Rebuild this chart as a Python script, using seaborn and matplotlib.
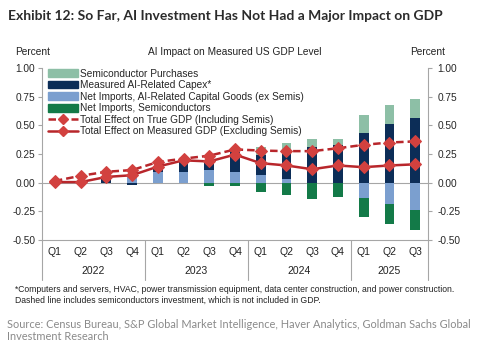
import matplotlib
matplotlib.use('Agg')
import matplotlib.pyplot as plt
from matplotlib.lines import Line2D
from matplotlib.patches import Patch
import numpy as np
import pandas as pd
import seaborn as sns

# data
quarters = ['Q1', 'Q2', 'Q3', 'Q4'] * 3 + ['Q1', 'Q2', 'Q3']
years = ['2022', '2023', '2024', '2025']
semi_purchases = [0.0, 0.0, 0.0, 0.0, 0.0, 0.0, 0.0, 0.01,
                  0.075, 0.10, 0.065, 0.05, 0.16, 0.17, 0.17]
capex = [0.0, 0.0, 0.03, -0.02, 0.045, 0.085, 0.08, 0.175,
         0.175, 0.22, 0.315, 0.33, 0.43, 0.51, 0.56]
imports_ai = [0.01, 0.0, 0.0, 0.07, 0.095, 0.095, 0.11, 0.095,
              0.065, 0.03, 0.0, 0.0, -0.13, -0.19, -0.24]
imports_semis = [-0.01, 0.0, 0.0, 0.0, 0.0, -0.005, -0.025, -0.025,
                 -0.08, -0.11, -0.14, -0.125, -0.17, -0.17, -0.17]
true_gdp = [0.015, 0.06, 0.095, 0.11, 0.18, 0.21, 0.235, 0.29,
            0.28, 0.275, 0.275, 0.30, 0.33, 0.35, 0.36]
measured_gdp = [0.005, 0.005, 0.05, 0.065, 0.14, 0.195, 0.185, 0.245,
                0.17, 0.15, 0.117, 0.15, 0.135, 0.15, 0.16]

labels = ['Semiconductor Purchases', 'Measured AI-Related Capex*',
          'Net Imports, AI-Related Capital Goods (ex Semis)',
          'Net Imports, Semiconductors',
          'Total Effect on True GDP (Including Semis)',
          'Total Effect on Measured GDP (Excluding Semis)']
colors = {'semis': '#8dbfa6', 'capex': '#0c2d57', 'ai': '#7b9fcf',
          'imp': '#137a48', 'line': '#b8262b', 'marker': '#d2413f'}

sns.set_style('white')
plt.rcParams['font.family'] = ['Liberation Sans', 'DejaVu Sans']

fig = plt.figure(figsize=(5, 3.52), dpi=100)
ax = fig.add_axes([42 / 500, 1 - 240 / 352, 386 / 500, 172 / 352])

x = np.arange(len(quarters))
width = 0.38

# stacked bars, positives up and negatives down
pos = np.zeros(len(x))
neg = np.zeros(len(x))
for key, vals in [('ai', imports_ai), ('capex', capex),
                  ('semis', semi_purchases), ('imp', imports_semis)]:
    vals = np.array(vals)
    bottom = np.where(vals >= 0, pos, neg)
    ax.bar(x, vals, width=width, bottom=bottom, color=colors[key], linewidth=0, zorder=2)
    pos += np.clip(vals, 0, None)
    neg += np.clip(vals, None, 0)

lines = pd.DataFrame({'x': x, 'true': true_gdp, 'measured': measured_gdp})
sns.lineplot(data=lines, x='x', y='true', ax=ax, color=colors['line'], lw=1.8,
             linestyle=(0, (3, 1.6)), marker='D', markersize=6.5,
             markerfacecolor=colors['marker'], markeredgecolor=colors['marker'], zorder=4)
sns.lineplot(data=lines, x='x', y='measured', ax=ax, color=colors['line'], lw=1.8,
             marker='D', markersize=6.5, markerfacecolor=colors['marker'],
             markeredgecolor=colors['marker'], zorder=5)

ax.axhline(0, color='#a6a6a6', lw=0.8, zorder=1)
ax.set_xlim(-0.5, len(x) - 0.5)
ax.set_ylim(-0.5, 1.0)
yt = np.arange(-0.5, 1.01, 0.25)
ax.set_yticks(yt)
ax.set_yticklabels([f'{v:.2f}' for v in yt], fontsize=7.3)
ax.set_xticks([])
ax.set_xlabel('')
ax.set_ylabel('')
ax.spines['top'].set_visible(False)
for s in ['left', 'right', 'bottom']:
    ax.spines[s].set_color('#a6a6a6')
    ax.spines[s].set_linewidth(0.8)
ax.tick_params(axis='y', direction='out', length=3, color='#a6a6a6', pad=2, left=True)

ax2 = ax.twinx()
ax2.set_ylim(-0.5, 1.0)
ax2.set_yticks(yt)
ax2.set_yticklabels([f'{v:.2f}' for v in yt], fontsize=7.3)
ax2.tick_params(axis='y', direction='out', length=3, color='#a6a6a6', pad=4, right=True)
for s in ax2.spines.values():
    s.set_visible(False)
ax2.grid(False)

# category labels and year separators
px = 114.7  # pixels per unit on the y axis
for i, q in enumerate(quarters):
    ax.text(i, -0.5 - 11.7 / px, q, ha='center', va='center', fontsize=7.5, color='#222222')
year_centers = [1.5, 5.5, 9.5, 13.0]
for yc, yr in zip(year_centers, years):
    ax.text(yc, -0.5 - 30.7 / px, yr, ha='center', va='center', fontsize=7.5, color='#222222')
for b in [-0.5, 3.5, 7.5, 11.5, 14.5]:
    ax.plot([b, b], [-0.5, -0.5 - 40 / px], color='#a6a6a6', lw=0.8, clip_on=False)

handles = [Patch(color=colors['semis']), Patch(color=colors['capex']),
           Patch(color=colors['ai']), Patch(color=colors['imp']),
           Line2D([], [], color=colors['line'], lw=1.8, linestyle=(0, (3, 1.6)), marker='D',
                  markersize=5, markerfacecolor=colors['marker'], markeredgecolor=colors['marker']),
           Line2D([], [], color=colors['line'], lw=1.8, marker='D', markersize=5,
                  markerfacecolor=colors['marker'], markeredgecolor=colors['marker'])]
ax.legend(handles, labels, loc='upper left', bbox_to_anchor=(0.005, 1.02), frameon=False,
          fontsize=7.3, handlelength=3.0, handleheight=0.8, labelspacing=0.15,
          handletextpad=0.2, borderaxespad=0.2, borderpad=0.2)

fig.text(8 / 500, 1 - 16 / 352, 'Exhibit 12: So Far, AI Investment Has Not Had a Major Impact on GDP',
         family=['Lato', 'DejaVu Sans'], fontweight='bold', fontsize=10.0, color='#2b2b2b',
         ha='left', va='center')
fig.text(235 / 500, 1 - 52.3 / 352, 'AI Impact on Measured US GDP Level', fontsize=7.3,
         ha='center', va='center', color='#222222')
fig.text(15 / 500, 1 - 52.3 / 352, 'Percent', fontsize=7.3, ha='left', va='center', color='#222222')
fig.text(445 / 500, 1 - 52.3 / 352, 'Percent', fontsize=7.3, ha='right', va='center', color='#222222')
fig.text(15 / 500, 1 - 290 / 352,
         '*Computers and servers, HVAC, power transmission equipment, data center construction, and power construction.',
         fontsize=6.2, ha='left', va='center', color='#222222')
fig.text(15 / 500, 1 - 300.7 / 352,
         'Dashed line includes semiconductors investment, which is not included in GDP.',
         fontsize=6.2, ha='left', va='center', color='#222222')
fig.text(7 / 500, 1 - 325 / 352,
         'Source: Census Bureau, S&P Global Market Intelligence, Haver Analytics, Goldman Sachs Global',
         family=['Lato', 'DejaVu Sans'], fontsize=7.9, ha='left', va='center', color='#8a8a8a')
fig.text(7 / 500, 1 - 336.7 / 352, 'Investment Research',
         family=['Lato', 'DejaVu Sans'], fontsize=7.9, ha='left', va='center', color='#8a8a8a')

fig.savefig('out.png', dpi=100)
